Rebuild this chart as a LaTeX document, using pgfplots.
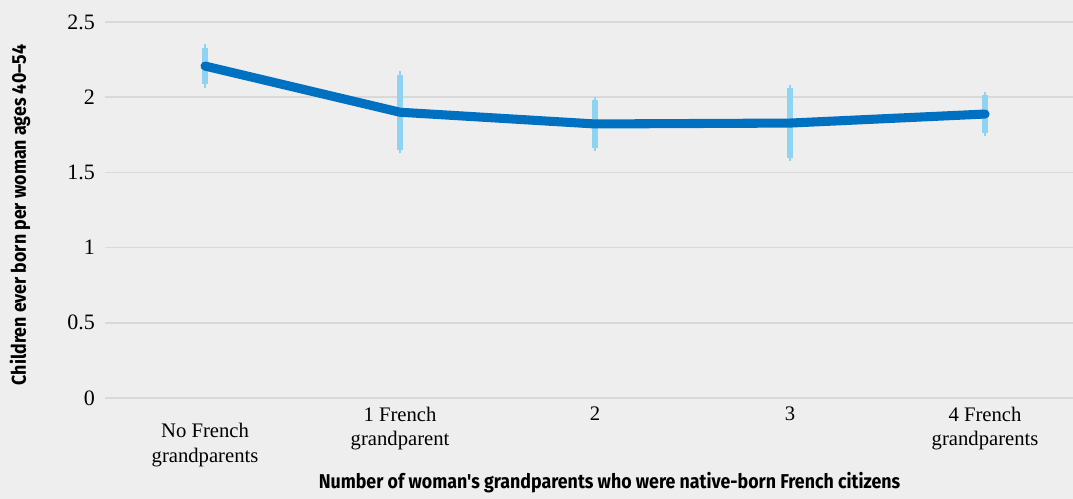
\documentclass[border=0pt]{standalone}
\usepackage{fontspec}
\setmainfont{Liberation Serif}
\newfontfamily\titlefont[FakeStretch=0.89]{Fira Sans}
\usepackage{pgfplots}
\pgfplotsset{compat=1.18}

\definecolor{bgc}{HTML}{EEEEEE}
\definecolor{gridc}{HTML}{D9D9D9}
\definecolor{linec}{HTML}{0070C0}
\definecolor{errc}{HTML}{8ED3F1}

\begin{document}
\begin{tikzpicture}[x=0.75pt,y=0.75pt]
% whole picture 1073 x 499 px, axis box from x=105 to 1073, y=22 to 398
\fill[bgc] (-105,-101) rectangle (968,398);
\begin{axis}[
    at={(0,0)}, anchor=south west,
    scale only axis,
    width=726pt, height=282pt,
    xmin=-0.513, xmax=4.451,
    ymin=0, ymax=2.5,
    ytick={0,0.5,1,1.5,2,2.5},
    yticklabels={0,0.5,1,1.5,2,2.5},
    ymajorgrids,
    grid style={gridc, line width=1.1pt},
    axis line style={draw=none},
    major tick length=0pt,
    xtick={1,2,3,4},
    xticklabels={{1 French\\grandparent},2,3,{4 French\\grandparents}},
    extra x ticks={0},
    extra x tick labels={{No French\\grandparents}},
    extra x tick style={xticklabel style={yshift=-12.5pt}},
    xticklabel style={font=\fontsize{15.5}{18.5}\selectfont, align=center, anchor=north, yshift=-3pt},
    yticklabel style={font=\fontsize{16.5}{19}\selectfont, anchor=east, xshift=-4pt},
    clip=false,
]
\addplot[draw=none, mark=none, forget plot,
    error bars/.cd, y dir=both, y explicit,
    error bar style={errc, line width=4.5pt},
    error mark=-, error mark options={errc, line width=1.6pt, mark size=2.7pt}]
  coordinates {
    (0,2.207) +- (0,0.12)
    (1,1.900) +- (0,0.25)
    (2,1.822) +- (0,0.157)
    (3,1.828) +- (0,0.23)
    (4,1.888) +- (0,0.124)
  };
\addplot[linec, line width=6.8pt, line cap=round, line join=round, mark=none]
  coordinates {(0,2.207) (1,1.900) (2,1.822) (3,1.828) (4,1.888)};
\end{axis}
\node[font=\titlefont\bfseries\fontsize{15}{18}\selectfont, rotate=90] at (-85,183) {Children ever born per woman ages 40–54};
\node[font=\titlefont\bfseries\fontsize{15}{18}\selectfont] at (504.5,-85) {Number of woman's grandparents who were native-born French citizens};
\pgfresetboundingbox
\useasboundingbox (-105,-101) rectangle (968,398);
\end{tikzpicture}
\end{document}
